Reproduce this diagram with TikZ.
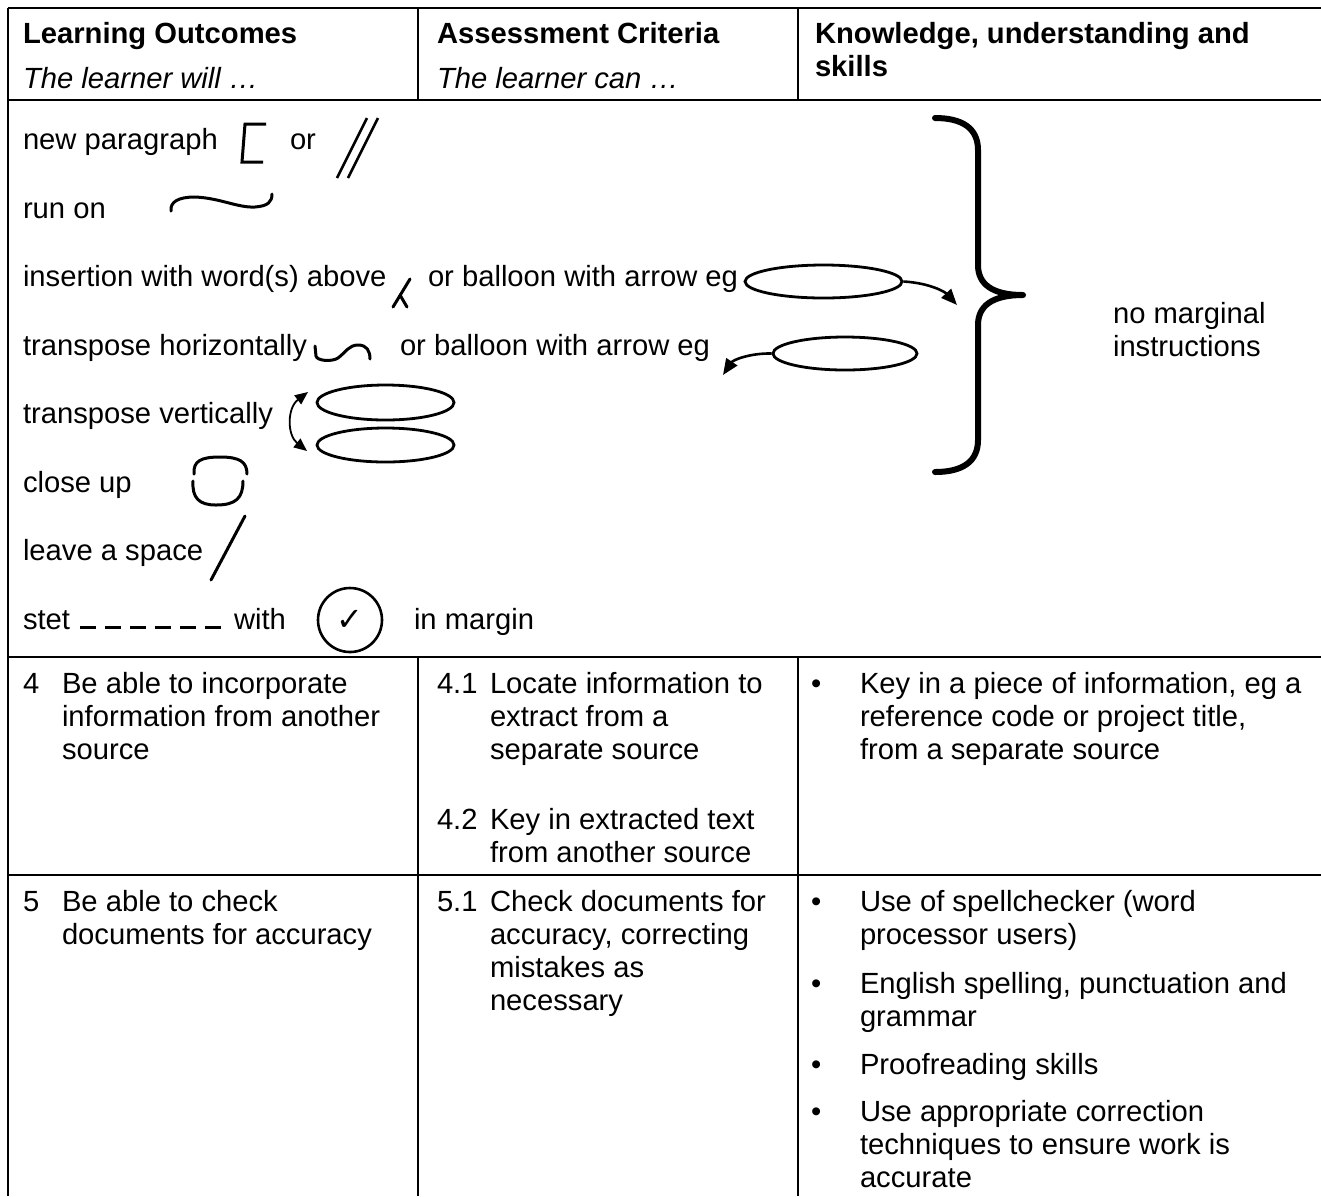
\documentclass[tikz,border=0pt]{standalone}
\usepackage{fontspec}
\setmainfont{Liberation Sans}
\newfontfamily\symfont{DejaVu Sans}
\usetikzlibrary{arrows.meta,shapes.geometric}
\begin{document}
\begin{tikzpicture}[x=0.5pt,y=-0.5pt,
  txt/.style={anchor=base west,inner sep=0pt,outer sep=0pt,font=\fontsize{14.6}{16.5}\selectfont},
  bold/.style={txt,font=\fontsize{14.6}{16.5}\selectfont\bfseries},
  ital/.style={txt,font=\fontsize{14.6}{16.5}\selectfont\itshape},
  rule/.style={line width=1.3pt},
  pmark/.style={line width=1.5pt,line cap=round,line join=round},
  balloon/.style={draw,ellipse,line width=1.4pt,inner sep=0pt},
  barrow/.style={line width=1.3pt,-{Triangle[length=8pt,width=6.5pt]}},
  darrow/.style={line width=0.9pt,{Triangle[length=6.5pt,width=5.5pt]}-{Triangle[length=6.5pt,width=5.5pt]}},
  bracepath/.style={line width=3pt,line cap=round,line join=round}
]
\useasboundingbox (0,0) rectangle (1321,1196);
\fill[white] (0,0) rectangle (1321,1196);

% table rules
\draw[rule] (8,8) -- (1321,8);
\draw[rule] (8,8) -- (8,1196);
\draw[rule] (8,100) -- (1321,100);
\draw[rule] (418,8) -- (418,100);
\draw[rule] (798,8) -- (798,100);
\draw[rule] (8,657) -- (1321,657);
\draw[rule] (8,875) -- (1321,875);
\draw[rule] (418,657) -- (418,1196);
\draw[rule] (798,657) -- (798,1196);

% header
\node[bold] (h1) at (23,43) {Learning Outcomes};
\node[ital] (h1b) at (23,88) {The learner will …};
\node[bold] (h2) at (437,43) {Assessment Criteria};
\node[ital] (h2b) at (437,88) {The learner can …};
\node[bold] (h3) at (815,43) {Knowledge, understanding and};
\node[bold] (h3b) at (815,76) {skills};

% symbol rows text
\node[txt] (np) at (23,149) {new paragraph};
\node[txt] (npor) at (290,149) {or};
\node[txt] (ro) at (23,218) {run on};
\node[txt] (ins) at (23,286) {insertion with word(s) above};
\node[txt] (insor) at (428,286) {or balloon with arrow eg};
\node[txt] (th) at (23,355) {transpose horizontally};
\node[txt] (thor) at (400,355) {or balloon with arrow eg};
\node[txt] (tv) at (23,423) {transpose vertically};
\node[txt] (cu) at (23,492) {close up};
\node[txt] (ls) at (23,560) {leave a space};
\node[txt] (st) at (23,629) {stet};
\node[txt] (with) at (234,629) {with};
\node[txt] (inm) at (414,629) {in margin};
\node[txt] (nm1) at (1113,323) {no marginal};
\node[txt] (nm2) at (1113,356) {instructions};

% new paragraph marks
\draw[pmark,line cap=butt,line join=miter] (266,124) -- (245,124) -- (242,162) -- (263,162);
\draw[line width=1.3pt] (337,178) -- (367,118);
\draw[line width=1.3pt] (348,178) -- (378,118);

% run on
\draw[pmark] (171,211) .. controls (170,202) and (178,197) .. (195,197)
  .. controls (220,198) and (238,208) .. (255,207) .. controls (268,206) and (272,202) .. (272,194);

% insertion caret
\draw[pmark] (410,279) -- (393,307);
\draw[pmark] (400,295) -- (407,307);

% balloons with arrows
\node[balloon,minimum width=78.5pt,minimum height=16.5pt] (b1) at (823.5,281.5) {};
\coordinate (a1) at (957,305);
\draw[barrow] (b1.east) .. controls (930,283) and (945,292) .. (a1);
\node[balloon,minimum width=72pt,minimum height=16.5pt] (b2) at (845,353.5) {};
\coordinate (a2) at (723,375);
\draw[barrow] (b2.west) .. controls (750,353) and (733,360) .. (a2);

% transpose horizontally
\draw[pmark] (315,346) -- (316,356) .. controls (317,361) and (332,362) .. (338,358)
  .. controls (346,352) and (349,345) .. (358,345) .. controls (367,345) and (370,351) .. (370,359);

% transpose vertically
\node[balloon,minimum width=68.5pt,minimum height=17.5pt] (v1) at (385.5,402.5) {};
\node[balloon,minimum width=68.5pt,minimum height=17pt] (v2) at (385.5,445) {};
\coordinate (ta) at (308,392);
\coordinate (tb) at (307,451);
\draw[darrow] (ta) .. controls (287,408) and (287,435) .. (tb);

% close up
\draw[pmark] (194,474) .. controls (193,461) and (201,457) .. (220,457) .. controls (240,457) and (247,462) .. (247,474);
\draw[pmark] (193,481) .. controls (192,498) and (199,505) .. (216,505) .. controls (236,505) and (243,498) .. (243,481);

% leave a space
\draw[pmark] (245,516) -- (211,580);

% stet
\draw[line width=1.5pt,dash pattern=on 8pt off 4.5pt] (80,627) -- (221,627);
\node[draw,circle,minimum size=32pt,line width=1.3pt,inner sep=0pt] (ring) at (350,620) {};
\node[inner sep=0pt,font=\symfont\fontsize{16}{16}\selectfont] (tick) at (ring.center) {✓};

% brace
\draw[bracepath] (935,118) .. controls (962,118) and (978,128) .. (978,150) -- (978,265)
  .. controls (978,284) and (992,295) .. (1023,295)
  .. controls (992,295) and (978,306) .. (978,325) -- (978,440)
  .. controls (978,462) and (962,472) .. (935,472);

% row 4
\node[txt] (r4n) at (23,693) {4};
\node[txt] (r4a) at (62,693) {Be able to incorporate};
\node[txt] (r4b) at (62,726) {information from another};
\node[txt] (r4c) at (62,759) {source};
\node[txt] (c41) at (437,693) {4.1};
\node[txt] (c41a) at (490,693) {Locate information to};
\node[txt] (c41b) at (490,726) {extract from a};
\node[txt] (c41c) at (490,759) {separate source};
\node[txt] (c42) at (437,829) {4.2};
\node[txt] (c42a) at (490,829) {Key in extracted text};
\node[txt] (c42b) at (490,862) {from another source};
\node[txt] (k4bul) at (811,693) {•};
\node[txt] (k4a) at (860,693) {Key in a piece of information, eg a};
\node[txt] (k4b) at (860,726) {reference code or project title,};
\node[txt] (k4c) at (860,759) {from a separate source};

% row 5
\node[txt] (r5n) at (23,911) {5};
\node[txt] (r5a) at (62,911) {Be able to check};
\node[txt] (r5b) at (62,944) {documents for accuracy};
\node[txt] (c51) at (437,911) {5.1};
\node[txt] (c51a) at (490,911) {Check documents for};
\node[txt] (c51b) at (490,944) {accuracy, correcting};
\node[txt] (c51c) at (490,977) {mistakes as};
\node[txt] (c51d) at (490,1010) {necessary};
\node[txt] (k5b1) at (811,911) {•};
\node[txt] (k5a) at (860,911) {Use of spellchecker (word};
\node[txt] (k5b) at (860,944) {processor users)};
\node[txt] (k5b2) at (811,993) {•};
\node[txt] (k5c) at (860,993) {English spelling, punctuation and};
\node[txt] (k5d) at (860,1026) {grammar};
\node[txt] (k5b3) at (811,1074) {•};
\node[txt] (k5e) at (860,1074) {Proofreading skills};
\node[txt] (k5b4) at (811,1121) {•};
\node[txt] (k5f) at (860,1121) {Use appropriate correction};
\node[txt] (k5g) at (860,1154) {techniques to ensure work is};
\node[txt] (k5h) at (860,1187) {accurate};
\end{tikzpicture}
\end{document}
